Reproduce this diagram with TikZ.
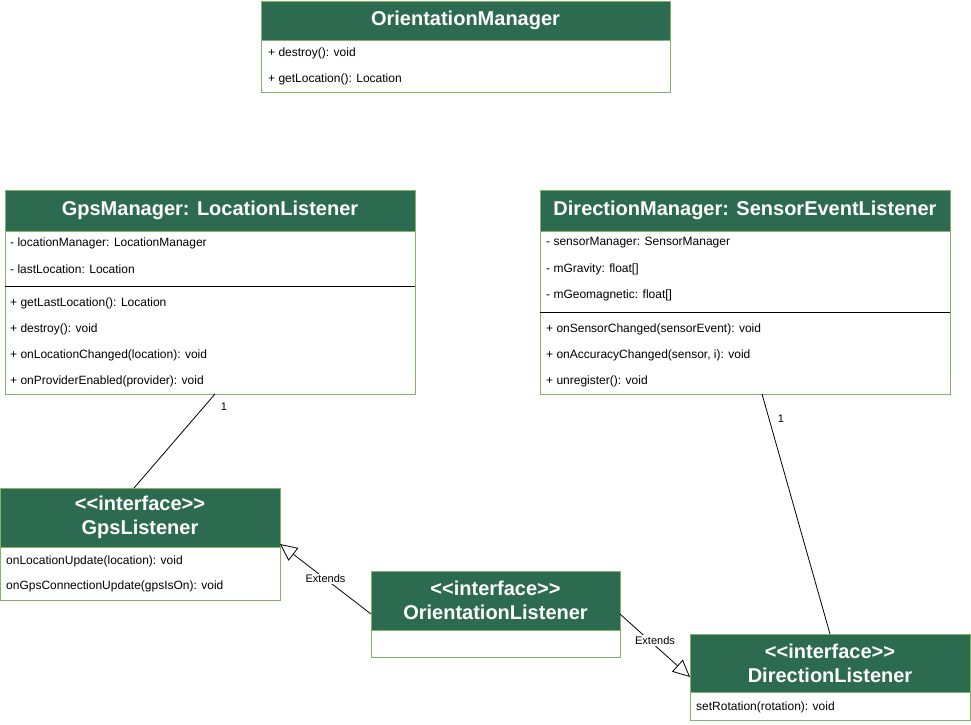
\documentclass[tikz,border=0pt]{standalone}
\usepackage{fontspec}
\setmainfont{Liberation Sans}
\usetikzlibrary{arrows.meta}
\definecolor{hdrgreen}{RGB}{45,107,80}
\definecolor{edgegreen}{RGB}{130,179,102}
\begin{document}
\begin{tikzpicture}[x=1pt, y=-1pt,
          hdr/.style={draw=edgegreen, fill=hdrgreen, text=white, line width=0.8pt, anchor=north west,
            inner sep=0pt, outer sep=0pt, align=center, font=\fontsize{20}{24}\selectfont\bfseries},
          body/.style={draw=edgegreen, fill=white, line width=0.8pt, anchor=north west, inner sep=0pt, outer sep=0pt},
          row/.style={anchor=west, inner sep=0pt, font=\fontsize{12}{14}\selectfont},
          divline/.style={line width=0.8pt},
          mult/.style={inner sep=0pt, font=\fontsize{11}{13}\selectfont},
          assoc/.style={line width=0.8pt},
          ext/.style={line width=0.8pt, -{Triangle[open, length=17pt, width=16pt, fill=white]}},
          extlbl/.style={fill=white, inner sep=1pt, font=\fontsize{11}{13}\selectfont}]
        \useasboundingbox (0,0) rectangle (971,724);
        % OrientationManager
        \node[hdr, minimum width=409pt, minimum height=39pt] (omH) at (261,1) {OrientationManager};
        \node[body, minimum width=409pt, minimum height=52pt] (omB) at (261,40) {};
        \foreach \y/\t [count=\i] in {53/{+ destroy(): void}, 79/{+ getLocation(): Location}}
          \node[row] (omR\i) at (268,\y) {\t};
        % GpsManager
        \node[hdr, minimum width=410pt, minimum height=41pt] (gpsmH) at (5,190) {GpsManager: LocationListener};
        \node[body, minimum width=410pt, minimum height=163pt] (gpsmB) at (5,231) {};
        \foreach \y/\t [count=\i] in {243/{- locationManager: LocationManager}, 269/{- lastLocation: Location},
            303/{+ getLastLocation(): Location}, 329/{+ destroy(): void},
            355/{+ onLocationChanged(location): void}, 381/{+ onProviderEnabled(provider): void}}
          \node[row] (gpsmR\i) at (10,\y) {\t};
        \draw[divline] (5,286) -- (415,286);
        % DirectionManager
        \node[hdr, minimum width=410pt, minimum height=41pt] (dirmH) at (540,190) {DirectionManager: SensorEventListener};
        \node[body, minimum width=410pt, minimum height=163pt] (dirmB) at (540,231) {};
        \foreach \y/\t [count=\i] in {243/{- sensorManager: SensorManager}, 269/{- mGravity: float[]},
            295/{- mGeomagnetic: float[]}, 329/{+ onSensorChanged(sensorEvent): void},
            355/{+ onAccuracyChanged(sensor, i): void}, 381/{+ unregister(): void}}
          \node[row] (dirmR\i) at (546,\y) {\t};
        \draw[divline] (540,312) -- (950,312);
        % interfaces
        \node[hdr, minimum width=280pt, minimum height=59pt] (gpslH) at (0,488) {<\kern0pt<interface>\kern0pt>\\GpsListener};
        \node[body, minimum width=280pt, minimum height=53pt] (gpslB) at (0,547) {};
        \foreach \y/\t [count=\i] in {561/{onLocationUpdate(location): void}, 586/{onGpsConnectionUpdate(gpsIsOn): void}}
          \node[row] (gpslR\i) at (6,\y) {\t};
        \node[hdr, minimum width=249pt, minimum height=59pt] (olH) at (371,571) {<\kern0pt<interface>\kern0pt>\\OrientationListener};
        \node[body, minimum width=249pt, minimum height=27pt] (olB) at (371,630) {};
        \node[hdr, minimum width=280pt, minimum height=58pt] (dlH) at (690,634) {<\kern0pt<interface>\kern0pt>\\DirectionListener};
        \node[body, minimum width=280pt, minimum height=28pt] (dlB) at (690,692) {};
        \node[row] (dlR1) at (696,707) {setRotation(rotation): void};
        % connectors
        \draw[assoc] ([xshift=210pt]gpsmB.south west) -- ([xshift=134pt]gpslH.north west)
          node[mult, at start, xshift=9pt, yshift=-13pt] (gpsmOne) {1};
        \draw[assoc] ([xshift=222pt]dirmB.south west) -- ([xshift=140pt]dlH.north west)
          node[mult, at start, xshift=19pt, yshift=-25pt] (dirmOne) {1};
        \draw[ext] ([yshift=16pt]olB.north west) -- ([yshift=3pt]gpslB.north east)
          node[extlbl, midway] (extGps) {Extends};
        \draw[ext] ([yshift=16pt]olB.north east) -- ([yshift=15pt]dlB.north west)
          node[extlbl, midway, yshift=5pt] (extDir) {Extends};
      \end{tikzpicture}
\end{document}
